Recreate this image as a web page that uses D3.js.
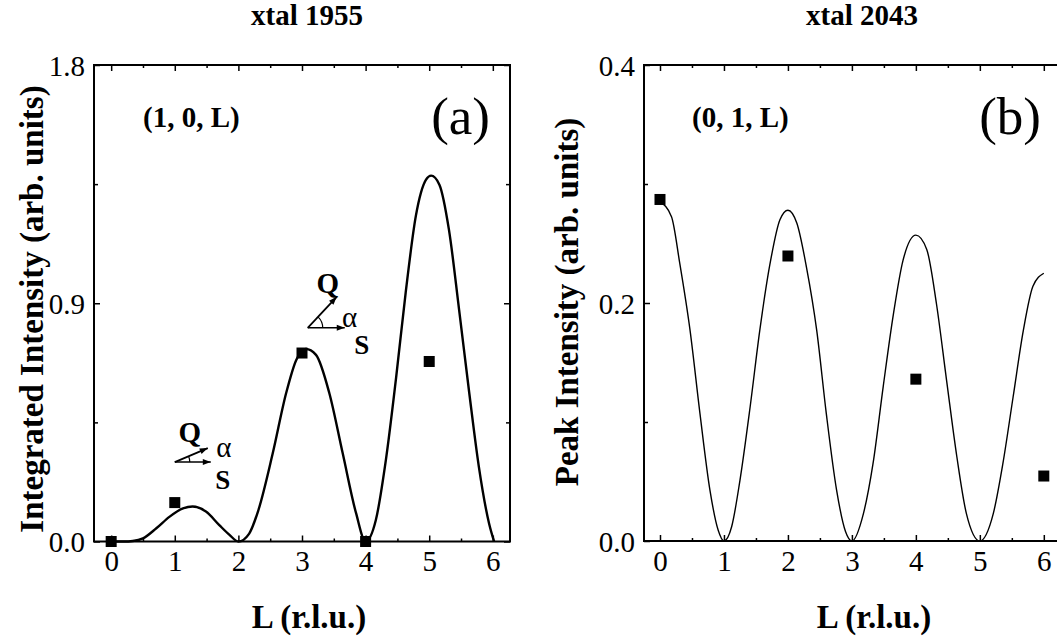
<!DOCTYPE html>
<html>
<head>
<meta charset="utf-8">
<script src="https://cdn.jsdelivr.net/npm/d3@7"></script>
<style>
  html, body { margin: 0; padding: 0; background: #fff; }
  svg { display: block; }
  text { font-family: "Liberation Serif", "Times New Roman", Times, serif; fill: #000; }
</style>
</head>
<body>
<svg id="fig" width="1057" height="641"></svg>
<script>
// ---- Panel (a): xtal 1955, (1, 0, L), integrated intensity ----
const aCurveL = [0, 0.2, 0.34, 0.5, 0.71, 0.92, 1.13, 1.28, 1.49, 1.70, 1.86, 2.0, 2.17, 2.31, 2.54, 2.75, 2.91, 3.06, 3.22, 3.43, 3.64, 3.85, 4.0, 4.16, 4.32, 4.48, 4.63, 4.79, 4.95, 5.03, 5.16, 5.31, 5.47, 5.63, 5.78, 5.94, 6.02];
const aCurveI = [0, 0, 0.002, 0.012, 0.05, 0.094, 0.125, 0.132, 0.113, 0.062, 0.025, 0, 0.03, 0.115, 0.333, 0.56, 0.686, 0.727, 0.705, 0.56, 0.333, 0.107, 0, 0.08, 0.31, 0.62, 0.94, 1.23, 1.367, 1.382, 1.348, 1.178, 0.875, 0.56, 0.283, 0.069, 0];
const aPointsL = [0, 1, 3, 4, 5];
const aPointsI = [0, 0.147, 0.712, 0, 0.68];
const aYTicks = [0, 0.9, 1.8];
const aYMinor = [0.45, 1.35];

// ---- Panel (b): xtal 2043, (0, 1, L), peak intensity ----
const bCurveL = [0, 0.18, 0.31, 0.47, 0.625, 0.78, 0.91, 1.0, 1.12, 1.25, 1.41, 1.56, 1.72, 1.875, 2.0, 2.14, 2.29, 2.45, 2.6, 2.76, 2.9, 3.0, 3.18, 3.33, 3.49, 3.65, 3.80, 4.0, 4.17, 4.32, 4.48, 4.64, 4.79, 5.0, 5.21, 5.36, 5.52, 5.68, 5.83, 6.0];
const bCurveI = [0.285, 0.2725, 0.233, 0.177, 0.107, 0.043, 0.009, 0, 0.012, 0.051, 0.113, 0.177, 0.233, 0.27, 0.278, 0.267, 0.23, 0.177, 0.107, 0.043, 0.008, 0, 0.023, 0.065, 0.13, 0.191, 0.236, 0.257, 0.245, 0.2, 0.135, 0.071, 0.023, 0, 0.023, 0.065, 0.121, 0.177, 0.214, 0.225];
const bPointsL = [0, 2, 4, 6];
const bPointsI = [0.287, 0.2395, 0.136, 0.0546];
const bYTicks = [0, 0.2, 0.4];
const bYMinor = [0.1, 0.3];

// shared L axis ticks
const lTicks = [0, 1, 2, 3, 4, 5, 6];
const lMinor = [0.5, 1.5, 2.5, 3.5, 4.5, 5.5];

const svg = d3.select("#fig");

function panel(cfg) {
  const x = d3.scaleLinear().domain(cfg.xDomain).range(cfg.xRange);
  const y = d3.scaleLinear().domain(cfg.yDomain).range(cfg.yRange);
  const g = svg.append("g");
  const [x0, x1] = cfg.xRange, [yb, yt] = cfg.yRange;

  // frame
  g.append("rect").attr("x", x0).attr("y", yt).attr("width", x1 - x0).attr("height", yb - yt)
    .attr("fill", "none").attr("stroke", "#000").attr("stroke-width", 2);

  const fmt = d3.format(".1f");
  // bottom axis with labels
  const bottom = g.append("g").attr("transform", `translate(0,${yb})`)
    .call(d3.axisBottom(x).tickValues(lTicks).tickSizeInner(-6).tickSizeOuter(0).tickPadding(9).tickFormat(d3.format("d")));
  bottom.select(".domain").remove();
  bottom.selectAll("text").attr("font-size", 29).attr("font-family", "Liberation Serif").attr("dy", "0.72em");
  g.append("g").attr("transform", `translate(0,${yb})`)
    .call(d3.axisBottom(x).tickValues(lMinor).tickSizeInner(-3).tickSizeOuter(0).tickFormat(""))
    .select(".domain").remove();
  // top axis ticks
  g.append("g").attr("transform", `translate(0,${yt})`)
    .call(d3.axisTop(x).tickValues(lTicks).tickSizeInner(-6).tickSizeOuter(0).tickFormat(""))
    .select(".domain").remove();
  g.append("g").attr("transform", `translate(0,${yt})`)
    .call(d3.axisTop(x).tickValues(lMinor).tickSizeInner(-3).tickSizeOuter(0).tickFormat(""))
    .select(".domain").remove();
  // left axis with labels
  const left = g.append("g").attr("transform", `translate(${x0},0)`)
    .call(d3.axisLeft(y).tickValues(cfg.yTicks).tickSizeInner(-6).tickSizeOuter(0).tickPadding(9).tickFormat(fmt));
  left.select(".domain").remove();
  left.selectAll("text").attr("font-size", 29).attr("font-family", "Liberation Serif").attr("dy", "0.35em");
  g.append("g").attr("transform", `translate(${x0},0)`)
    .call(d3.axisLeft(y).tickValues(cfg.yMinor).tickSizeInner(-4).tickSizeOuter(0).tickFormat(""))
    .select(".domain").remove();
  // right axis ticks
  g.append("g").attr("transform", `translate(${x1},0)`)
    .call(d3.axisRight(y).tickValues(cfg.yTicks).tickSizeInner(-6).tickSizeOuter(0).tickFormat(""))
    .select(".domain").remove();
  g.append("g").attr("transform", `translate(${x1},0)`)
    .call(d3.axisRight(y).tickValues(cfg.yMinor).tickSizeInner(-4).tickSizeOuter(0).tickFormat(""))
    .select(".domain").remove();
  g.selectAll(".tick line").attr("stroke", "#000").attr("stroke-width", 1.5);

  // model curve
  const pts = cfg.curveL.map((l, i) => [l, cfg.curveI[i]]);
  g.append("path").datum(pts)
    .attr("d", d3.line().x(d => x(d[0])).y(d => y(d[1])).curve(d3.curveMonotoneX))
    .attr("fill", "none").attr("stroke", "#000").attr("stroke-width", cfg.curveWidth);

  // measured points
  const s = 11;
  g.selectAll("rect.pt").data(cfg.ptsL.map((l, i) => [l, cfg.ptsI[i]])).join("rect")
    .attr("class", "pt")
    .attr("x", d => x(d[0]) - s / 2).attr("y", d => y(d[1]) - s / 2)
    .attr("width", s).attr("height", s).attr("fill", "#000");

  // titles and labels
  g.append("text").attr("x", cfg.titleX).attr("y", 25).attr("text-anchor", "middle")
    .attr("font-weight", "bold").attr("font-size", 29).text(cfg.title);
  g.append("text").attr("x", cfg.xTitleX).attr("y", 628).attr("text-anchor", "middle")
    .attr("font-weight", "bold").attr("font-size", 33).text("L (r.l.u.)");
  g.append("text").attr("transform", `translate(${cfg.yTitleX},${cfg.yTitleY}) rotate(-90)`)
    .attr("text-anchor", "middle").attr("font-weight", "bold").attr("font-size", 33).text(cfg.yTitle);
  g.append("text").attr("x", cfg.hklX).attr("y", 127).attr("font-weight", "bold")
    .attr("font-size", 29).text(cfg.hkl);
  g.append("text").attr("x", cfg.tagX).attr("y", 134).attr("text-anchor", "end")
    .attr("font-size", 53).text(cfg.tag);

  return { g, x, y };
}

// Q/S scattering geometry sketch: Q vector at angle alpha above S
function geometry(g, ox, oy, qdx, qdy, sdx) {
  const ann = g.append("g");
  ann.append("line").attr("x1", ox).attr("y1", oy).attr("x2", ox + qdx).attr("y2", oy + qdy)
    .attr("stroke", "#000").attr("stroke-width", 1.8);
  ann.append("line").attr("x1", ox).attr("y1", oy).attr("x2", ox + sdx).attr("y2", oy)
    .attr("stroke", "#000").attr("stroke-width", 1.5);
  const head = (tx, ty, ang) => {
    const L = 8, W = 3;
    const c = Math.cos(ang), s = Math.sin(ang);
    const p = [[tx, ty], [tx - L * c - W * s, ty - L * s + W * c], [tx - L * c + W * s, ty - L * s - W * c]];
    ann.append("path").attr("d", "M" + p.map(q => q.join(",")).join("L") + "Z").attr("fill", "#000");
  };
  head(ox + qdx, oy + qdy, Math.atan2(qdy, qdx));
  head(ox + sdx, oy, 0);
  // angle arc
  const r = 15, ang = Math.atan2(qdy, qdx);
  ann.append("path").attr("d", `M${ox + r},${oy} A${r},${r} 0 0 0 ${ox + r * Math.cos(ang)},${oy + r * Math.sin(ang)}`)
    .attr("fill", "none").attr("stroke", "#000").attr("stroke-width", 1.2);
  return ann;
}

function geometryLabels(g, ox, oy, q, al, sl) {
  g.append("text").attr("x", ox + q[0]).attr("y", oy + q[1]).attr("text-anchor", "middle")
    .attr("font-weight", "bold").attr("font-size", 29).text("Q");
  g.append("text").attr("x", ox + al[0]).attr("y", oy + al[1]).attr("text-anchor", "middle")
    .attr("font-size", 29).text("α");
  g.append("text").attr("x", ox + sl[0]).attr("y", oy + sl[1]).attr("text-anchor", "middle")
    .attr("font-weight", "bold").attr("font-size", 27).text("S");
}

const A = panel({
  xDomain: [-0.27, 6.27], xRange: [94, 510], yDomain: [0, 1.8], yRange: [541.5, 65],
  yTicks: aYTicks, yMinor: aYMinor, curveL: aCurveL, curveI: aCurveI, curveWidth: 2.4,
  ptsL: aPointsL, ptsI: aPointsI, title: "xtal 1955", titleX: 307, xTitleX: 309,
  yTitle: "Integrated Intensity (arb. units)", yTitleX: 43, yTitleY: 309,
  hkl: "(1, 0, L)", hklX: 143, tag: "(a)", tagX: 490
});

const B = panel({
  xDomain: [-0.25, 6.3], xRange: [644, 1063], yDomain: [0, 0.4], yRange: [541, 65],
  yTicks: bYTicks, yMinor: bYMinor, curveL: bCurveL, curveI: bCurveI, curveWidth: 1.4,
  ptsL: bPointsL, ptsI: bPointsI, title: "xtal 2043", titleX: 862, xTitleX: 874,
  yTitle: "Peak Intensity (arb. units)", yTitleX: 578, yTitleY: 302,
  hkl: "(0, 1, L)", hklX: 692, tag: "(b)", tagX: 1041
});

// geometry sketches in panel (a), anchored in data space
const o1 = [A.x(3.09), A.y(0.807)];
geometry(A.g, o1[0], o1[1], 29, -31, 37);
geometryLabels(A.g, o1[0], o1[1], [20, -35], [42, -1], [54, 26]);

const o2 = [A.x(1.0), A.y(0.3)];
geometry(A.g, o2[0], o2[1], 33, -14, 36);
geometryLabels(A.g, o2[0], o2[1], [15, -20], [49, -5], [48, 27]);
</script>
</body>
</html>
